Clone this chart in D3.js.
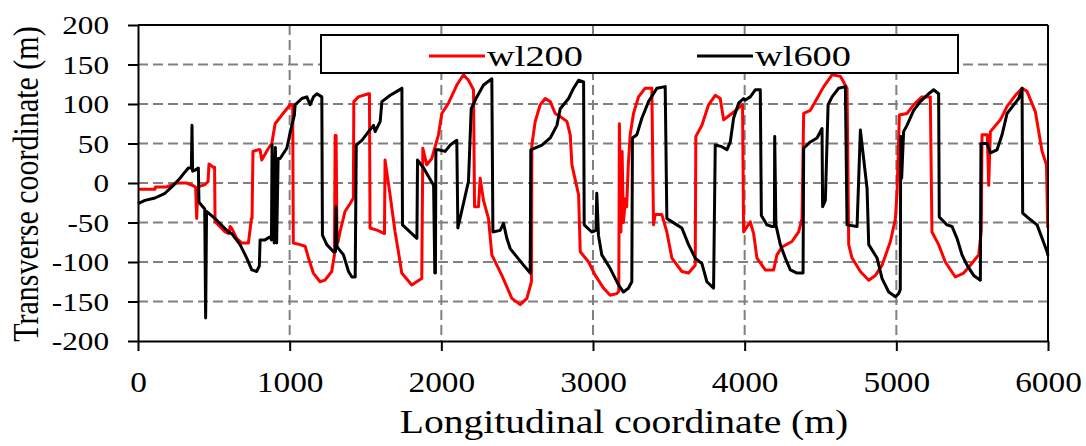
<!DOCTYPE html>
<html>
<head>
<meta charset="utf-8">
<script src="https://cdn.jsdelivr.net/npm/d3@7"></script>
<style>
  body { margin: 0; background: #fff; }
  text { font-family: "Liberation Serif", "Times New Roman", serif; fill: #000; }
</style>
</head>
<body>
<script>
// wl200 trajectory [longitudinal, transverse] (m)
var wl200 = [[0,-8],[112,-8],[115,-5],[189,-5],[255,0],[321,0],[370,-4],[380,-6],[387,-45],[395,-5],[442,-2],[462,2],[468,24],[497,20],[505,20],[508,-49],[530,-53],[574,-62],[600,-64],[607,-55],[620,-58],[651,-70],[684,-76],[728,-76],[748,-45],[752,-45],[758,40],[790,42],[805,42],[816,29],[860,44],[882,50],[904,75],[948,86],[1003,99],[1020,99],[1024,-76],[1068,-78],[1102,-80],[1124,-95],[1156,-114],[1200,-125],[1233,-123],[1277,-112],[1295,-91],[1300,60],[1306,60],[1312,-70],[1318,-75],[1332,-62],[1365,-36],[1405,-24],[1420,-19],[1423,103],[1453,109],[1519,113],[1526,113],[1530,-57],[1580,-60],[1625,-64],[1629,29],[1662,-15],[1695,-62],[1717,-87],[1739,-114],[1805,-129],[1860,-122],[1871,-121],[1878,44],[1904,23],[1937,31],[1981,61],[2003,88],[2047,101],[2102,124],[2146,137],[2179,130],[2212,118],[2219,-30],[2245,-30],[2256,6],[2278,-22],[2311,-45],[2333,-91],[2399,-117],[2465,-146],[2520,-154],[2564,-146],[2594,-125],[2597,48],[2619,78],[2652,99],[2685,107],[2718,103],[2751,88],[2784,84],[2828,78],[2850,61],[2861,23],[2905,-15],[2916,-87],[2971,-100],[3015,-117],[3069,-133],[3113,-142],[3157,-140],[3170,-137],[3174,75],[3184,-62],[3192,40],[3200,-50],[3205,-40],[3215,-20],[3222,-30],[3232,20],[3245,61],[3267,88],[3300,109],[3344,120],[3388,120],[3399,-53],[3410,-40],[3454,-40],[3487,-62],[3520,-95],[3586,-112],[3630,-114],[3674,-104],[3678,59],[3718,73],[3762,99],[3806,111],[3839,107],[3861,80],[3916,88],[3960,95],[3986,99],[3993,-62],[4037,-49],[4059,-64],[4081,-95],[4136,-110],[4191,-110],[4213,-91],[4246,-81],[4312,-74],[4356,-62],[4378,-45],[4389,88],[4433,92],[4477,107],[4521,122],[4576,137],[4631,135],[4675,120],[4686,-78],[4708,-95],[4763,-112],[4818,-123],[4862,-117],[4906,-104],[4961,-74],[4994,-45],[5005,-11],[5020,86],[5070,88],[5114,99],[5169,109],[5224,109],[5235,-62],[5279,-78],[5323,-100],[5389,-119],[5444,-114],[5488,-104],[5543,-91],[5560,-60],[5565,61],[5600,61],[5609,-3],[5620,65],[5686,80],[5730,97],[5785,111],[5829,120],[5862,116],[5917,90],[5961,40],[5990,23],[5998,-57]];

// wl600 trajectory
var wl600 = [[0,-26],[46,-22],[112,-19],[178,-13],[233,-3],[277,6],[310,14],[332,19],[352,19],[356,73],[360,15],[375,16],[398,19],[402,-24],[409,-26],[440,-33],[446,-171],[452,-36],[508,-45],[596,-62],[618,-64],[673,-78],[717,-95],[750,-110],[783,-112],[800,-105],[805,-72],[838,-72],[871,-68],[880,-72],[884,48],[898,-76],[906,45],[914,-76],[924,31],[937,31],[981,44],[1014,73],[1031,86],[1036,99],[1080,107],[1113,109],[1135,99],[1157,109],[1179,113],[1212,109],[1216,-66],[1245,-78],[1289,-87],[1302,-87],[1306,-30],[1312,-80],[1322,-83],[1355,-91],[1388,-112],[1410,-119],[1432,-119],[1439,48],[1476,54],[1520,65],[1553,73],[1564,65],[1597,78],[1608,103],[1663,111],[1707,116],[1740,120],[1744,-53],[1839,-70],[1843,29],[1883,19],[1949,-3],[1957,-114],[1961,-114],[1964,42],[1981,42],[2025,40],[2058,48],[2102,54],[2109,-57],[2179,2],[2197,94],[2234,109],[2278,124],[2333,132],[2340,-62],[2388,-60],[2410,-51],[2432,-70],[2454,-83],[2487,-91],[2542,-104],[2586,-114],[2590,42],[2663,48],[2718,57],[2762,73],[2784,94],[2839,107],[2872,120],[2905,130],[2938,128],[2942,-53],[2992,-62],[3020,-60],[3025,-13],[3036,-66],[3058,-91],[3113,-108],[3168,-129],[3201,-138],[3234,-133],[3256,-125],[3260,57],[3289,61],[3322,82],[3366,103],[3421,120],[3476,122],[3487,-45],[3553,-53],[3586,-57],[3630,-78],[3674,-95],[3718,-102],[3751,-125],[3795,-133],[3806,48],[3850,46],[3883,42],[3905,52],[3927,82],[3960,101],[3993,107],[4004,105],[4037,109],[4070,118],[4103,118],[4110,-41],[4147,-53],[4180,-55],[4196,-55],[4198,59],[4206,-53],[4235,-78],[4268,-95],[4301,-110],[4345,-114],[4385,-114],[4389,44],[4433,52],[4477,57],[4510,69],[4514,-30],[4532,-22],[4550,99],[4576,109],[4620,120],[4664,122],[4675,-53],[4741,-55],[4763,67],[4807,-7],[4818,-78],[4873,-95],[4906,-121],[4950,-138],[4994,-144],[5015,-140],[5026,-135],[5029,59],[5035,6],[5048,65],[5070,73],[5114,92],[5158,103],[5213,113],[5246,118],[5279,113],[5283,-43],[5334,-53],[5367,-55],[5400,-70],[5433,-91],[5466,-104],[5510,-117],[5554,-123],[5558,50],[5598,50],[5620,38],[5664,42],[5697,61],[5730,88],[5774,99],[5807,107],[5829,120],[5833,-38],[5862,-43],[5928,-53],[5961,-70],[5994,-87],[6000,-92]];

var xTicks = [0, 1000, 2000, 3000, 4000, 5000, 6000];
var yTicks = [-200, -150, -100, -50, 0, 50, 100, 150, 200];
var seriesNames = ["wl200", "wl600"];
var seriesColors = ["#ff0000", "#000000"];

var margin = {left: 138, right: 38, top: 25, bottom: 105};
var width = 1086 - margin.left - margin.right;
var height = 446 - margin.top - margin.bottom;

var svg = d3.select("body").append("svg")
    .attr("width", 1086)
    .attr("height", 446);

var g = svg.append("g").attr("transform", "translate(" + margin.left + "," + margin.top + ")");

var xScale = d3.scaleLinear().domain([0, 6000]).range([0, width]);
var yScale = d3.scaleLinear().domain([-200, 200]).range([height, 0]);

// grid
g.selectAll(".hgrid")
    .data(yTicks.filter(function (d) { return d > -200 && d < 200; }))
    .enter().append("line")
    .attr("x1", 0).attr("x2", width)
    .attr("y1", function (d) { return yScale(d); })
    .attr("y2", function (d) { return yScale(d); })
    .attr("stroke", "#808080").attr("stroke-width", 2)
    .attr("stroke-dasharray", "10,5");

g.selectAll(".vgrid")
    .data(xTicks.filter(function (d) { return d > 0 && d < 6000; }))
    .enter().append("line")
    .attr("y1", 0).attr("y2", height)
    .attr("x1", function (d) { return xScale(d); })
    .attr("x2", function (d) { return xScale(d); })
    .attr("stroke", "#808080").attr("stroke-width", 2)
    .attr("stroke-dasharray", "10,5");

// lines
var line = d3.line()
    .x(function (d) { return xScale(d[0]); })
    .y(function (d) { return yScale(d[1]); });

[wl200, wl600].forEach(function (s, i) {
    g.append("path")
        .datum(s)
        .attr("d", line)
        .attr("fill", "none")
        .attr("stroke", seriesColors[i])
        .attr("stroke-width", 3)
        .attr("stroke-linejoin", "round");
});

// frame: top and right
g.append("line").attr("x1", 0).attr("x2", width).attr("y1", 0).attr("y2", 0)
    .attr("stroke", "#000").attr("stroke-width", 2);
g.append("line").attr("x1", width).attr("x2", width).attr("y1", 0).attr("y2", height)
    .attr("stroke", "#000").attr("stroke-width", 2);

// axes
var fmt = function (d) { return String(d); };
var xAxis = d3.axisBottom(xScale).tickValues(xTicks).tickSize(10).tickSizeOuter(0).tickFormat(fmt);
var yAxis = d3.axisLeft(yScale).tickValues(yTicks).tickSize(10).tickSizeOuter(0).tickFormat(fmt);

var gx = g.append("g").attr("transform", "translate(0," + height + ")").call(xAxis);
var gy = g.append("g").call(yAxis);

[gx, gy].forEach(function (a) {
    a.select(".domain").attr("stroke", "#000").attr("stroke-width", 2);
    a.selectAll(".tick line").attr("stroke", "#000").attr("stroke-width", 2);
});

gx.selectAll(".tick text")
    .attr("y", 51).attr("dy", 0)
    .attr("font-size", 29)
    .attr("transform", "scale(1.15,1)")
    .style("font-family", "'Liberation Serif', serif");

gy.selectAll(".tick text")
    .attr("x", -29 / 1.2).attr("dy", "0.34em")
    .attr("font-size", 26)
    .attr("transform", "scale(1.2,1)")
    .style("font-family", "'Liberation Serif', serif");

// axis titles
svg.append("text")
    .attr("transform", "translate(624,433) scale(1.2,1)")
    .attr("text-anchor", "middle")
    .attr("font-size", 33)
    .text("Longitudinal coordinate (m)");

svg.append("text")
    .attr("transform", "translate(38,184) scale(1.2,1) rotate(-90)")
    .attr("text-anchor", "middle")
    .attr("font-size", 30)
    .text("Transverse coordinate (m)");

// legend
var legend = svg.append("g");
legend.append("rect")
    .attr("x", 321).attr("y", 35).attr("width", 637).attr("height", 38)
    .attr("fill", "#fff").attr("stroke", "#000").attr("stroke-width", 2);

var legendX = [429, 697];
seriesNames.forEach(function (name, i) {
    legend.append("line")
        .attr("x1", legendX[i]).attr("x2", legendX[i] + 56)
        .attr("y1", 56).attr("y2", 56)
        .attr("stroke", seriesColors[i]).attr("stroke-width", 3);
    legend.append("text")
        .attr("transform", "translate(" + (legendX[i] + 58) + ",66) scale(1.28,1)")
        .attr("font-size", 30)
        .text(name);
});
</script>
</body>
</html>
